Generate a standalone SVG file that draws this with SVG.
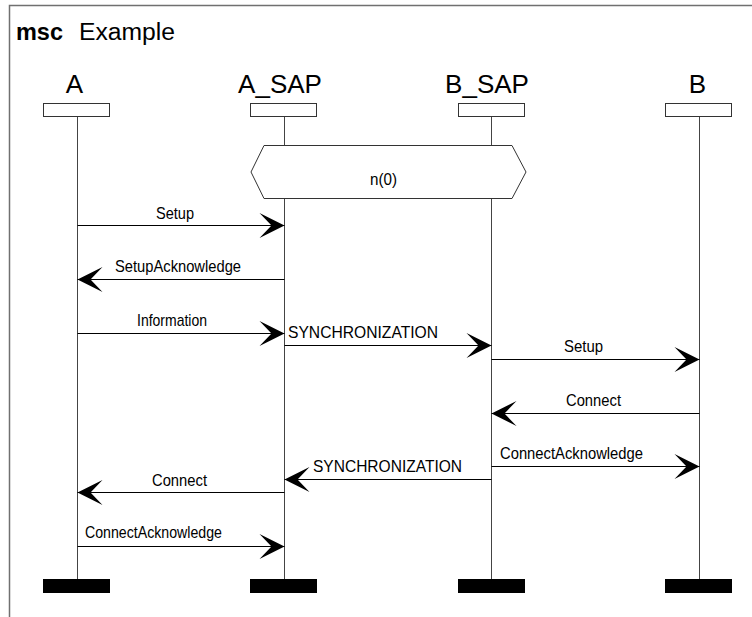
<svg xmlns="http://www.w3.org/2000/svg" width="752" height="617" viewBox="0 0 752 617">
<style>
.frame{fill:none;stroke:#707070;stroke-width:1.5}
.head{fill:#fff;stroke:#333;stroke-width:1}
.life{stroke:#444;stroke-width:1}
.endbar{fill:#000}
.name{font-family:"Liberation Sans",Arial,sans-serif;font-size:26px;fill:#000;text-anchor:middle}
.title{font-family:"Liberation Sans",Arial,sans-serif;font-size:23px;fill:#000}
.lbl{font-family:"Liberation Sans",Arial,sans-serif;font-size:17px;fill:#000}
.msg{stroke:#000;stroke-width:1;fill:none;marker-end:url(#arr)}
.cond{fill:#fff;stroke:#333;stroke-width:1}
</style>
<defs>
<marker id="arr" markerUnits="userSpaceOnUse" viewBox="-27 -14 28 28" refX="0" refY="0" markerWidth="28" markerHeight="28" orient="auto">
<polygon points="0,0 -25,-12.5 -13,0 -25,12.5" fill="#000"/>
</marker>
</defs>
<rect width="752" height="617" fill="#fff"/>
<path class="frame" d="M9.5,617 L9.5,5.5 L752,5.5"/>
<text class="title" x="16" y="40"><tspan font-weight="bold" textLength="47" lengthAdjust="spacingAndGlyphs">msc</tspan></text>
<text class="title" x="79" y="40" textLength="96" lengthAdjust="spacingAndGlyphs">Example</text>

<g id="A">
<text class="name" x="74.5" y="93">A</text>
<rect class="head" x="43.5" y="103.5" width="66" height="13"/>
<line class="life" x1="77.5" y1="117" x2="77.5" y2="579"/>
<rect class="endbar" x="43" y="579" width="67" height="14"/>
</g>
<g id="A_SAP">
<text class="name" x="280" y="93">A_SAP</text>
<rect class="head" x="250.5" y="103.5" width="66" height="13"/>
<line class="life" x1="284.5" y1="117" x2="284.5" y2="579"/>
<rect class="endbar" x="250" y="579" width="67" height="14"/>
</g>
<g id="B_SAP">
<text class="name" x="487" y="93">B_SAP</text>
<rect class="head" x="458.5" y="103.5" width="66" height="13"/>
<line class="life" x1="491.5" y1="117" x2="491.5" y2="579"/>
<rect class="endbar" x="458" y="579" width="67" height="14"/>
</g>
<g id="B">
<text class="name" x="697.5" y="93">B</text>
<rect class="head" x="665.5" y="103.5" width="66" height="13"/>
<line class="life" x1="699.5" y1="117" x2="699.5" y2="579"/>
<rect class="endbar" x="665" y="579" width="67" height="14"/>
</g>
<g id="cond_n0">
<polygon class="cond" points="264,145.5 512,145.5 526,172 512,198.5 264,198.5 251,172"/>
<text class="lbl" x="383.5" y="185" text-anchor="middle" textLength="27" lengthAdjust="spacingAndGlyphs">n(0)</text>
</g>

<g id="connectors">
<line class="msg" x1="77.5" y1="225.5" x2="284.5" y2="225.5"/>
<line class="msg" x1="284.5" y1="279.5" x2="77.5" y2="279.5"/>
<line class="msg" x1="77.5" y1="333.5" x2="284.5" y2="333.5"/>
<line class="msg" x1="284.5" y1="345.5" x2="491.5" y2="345.5"/>
<line class="msg" x1="491.5" y1="359.5" x2="699.5" y2="359.5"/>
<line class="msg" x1="699.5" y1="413.5" x2="491.5" y2="413.5"/>
<line class="msg" x1="491.5" y1="466.5" x2="699.5" y2="466.5"/>
<line class="msg" x1="491.5" y1="479.5" x2="284.5" y2="479.5"/>
<line class="msg" x1="284.5" y1="492.5" x2="77.5" y2="492.5"/>
<line class="msg" x1="77.5" y1="546.5" x2="284.5" y2="546.5"/>
<text class="lbl" x="156" y="219" textLength="38" lengthAdjust="spacingAndGlyphs">Setup</text>
<text class="lbl" x="115" y="272" textLength="126" lengthAdjust="spacingAndGlyphs">SetupAcknowledge</text>
<text class="lbl" x="137" y="326" textLength="70" lengthAdjust="spacingAndGlyphs">Information</text>
<text class="lbl" x="288" y="338" textLength="150" lengthAdjust="spacingAndGlyphs">SYNCHRONIZATION</text>
<text class="lbl" x="564" y="352" textLength="39" lengthAdjust="spacingAndGlyphs">Setup</text>
<text class="lbl" x="566" y="406" textLength="55" lengthAdjust="spacingAndGlyphs">Connect</text>
<text class="lbl" x="500" y="459" textLength="143" lengthAdjust="spacingAndGlyphs">ConnectAcknowledge</text>
<text class="lbl" x="313" y="472" textLength="149" lengthAdjust="spacingAndGlyphs">SYNCHRONIZATION</text>
<text class="lbl" x="152" y="486" textLength="55" lengthAdjust="spacingAndGlyphs">Connect</text>
<text class="lbl" x="85" y="538" textLength="137" lengthAdjust="spacingAndGlyphs">ConnectAcknowledge</text>
</g>
</svg>
